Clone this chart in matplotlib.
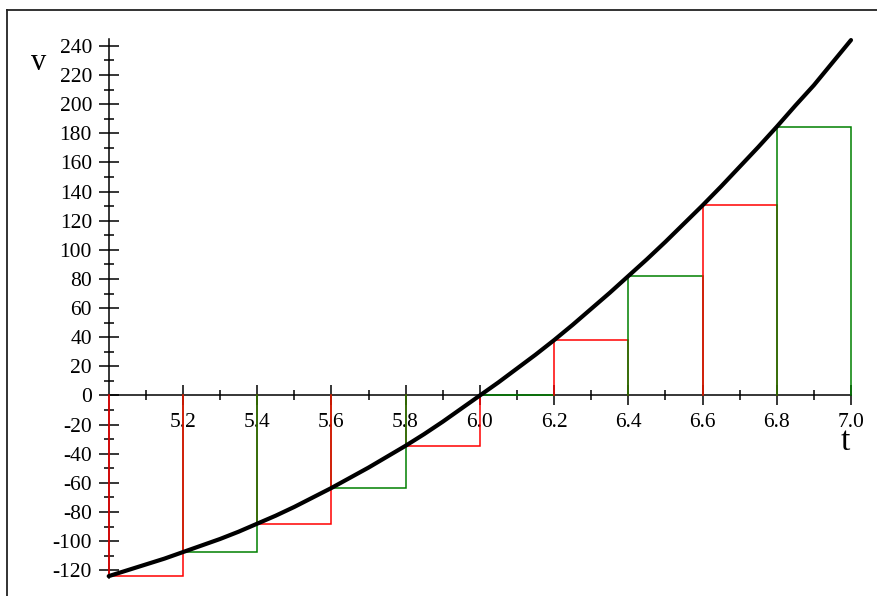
import matplotlib
matplotlib.use("Agg")
import matplotlib.pyplot as plt
from matplotlib.lines import Line2D

# ---- data ----
t_curve = [5.0, 5.05, 5.1, 5.15, 5.2, 5.25, 5.3, 5.35, 5.4, 5.45, 5.5, 5.55,
           5.6, 5.65, 5.7, 5.75, 5.8, 5.85, 5.9, 5.95, 6.0, 6.05, 6.1, 6.15,
           6.2, 6.25, 6.3, 6.35, 6.4, 6.45, 6.5, 6.55, 6.6, 6.65, 6.7, 6.75,
           6.8, 6.85, 6.9, 6.95, 7.0]
v_curve = [-124, -120, -116, -112, -107.5, -103, -98.5, -93.5, -88, -82.5, -76.5, -70,
           -63.5, -56.5, -49.5, -42, -34.5, -26.5, -18, -9, 0, 9, 18.5, 28,
           38, 48.5, 59.5, 70.5, 82, 93.5, 105.5, 118, 130.5, 143.5, 157, 170.5,
           184.5, 199, 213, 228.5, 244]

rect_left = [5.0, 5.2, 5.4, 5.6, 5.8, 6.0, 6.2, 6.4, 6.6, 6.8]
rect_height = [-124, -107.5, -88, -63.5, -34.5, 0, 38, 82, 130.5, 184.5]
rect_width = 0.2
rect_colors = ["#ff0000", "#008000"] * 5

x_major = [5.2, 5.4, 5.6, 5.8, 6.0, 6.2, 6.4, 6.6, 6.8, 7.0]
x_labels = ["5.2", "5.4", "5.6", "5.8", "6.0", "6.2", "6.4", "6.6", "6.8", "7.0"]
x_minor = [5.1, 5.3, 5.5, 5.7, 5.9, 6.1, 6.3, 6.5, 6.7, 6.9]
y_major = list(range(-120, 241, 20))
y_minor = list(range(-110, 231, 20))

serif = ["Liberation Serif", "DejaVu Serif"]

fig = plt.figure(figsize=(8.78, 5.96), dpi=100)
ax = fig.add_axes([0, 0, 1, 1])
ax.set_facecolor("white")

ax.set_xlim(4.70713, 7.07275)
ax.set_ylim(-137.64, 271.5)

for s in ["top", "right"]:
    ax.spines[s].set_visible(False)
ax.spines["left"].set_position(("data", 5.0))
ax.spines["bottom"].set_position(("data", 0))
ax.spines["left"].set_bounds(-125, 245)
ax.spines["bottom"].set_bounds(5.0, 7.0)
for s in ["left", "bottom"]:
    ax.spines[s].set_linewidth(1.1)
    ax.spines[s].set_color("black")

ax.set_xticks(x_major)
ax.set_xticklabels(x_labels)
ax.set_xticks(x_minor, minor=True)
ax.set_yticks(y_major)
ax.set_yticklabels([str(v) for v in y_major])
ax.set_yticks(y_minor, minor=True)
ax.tick_params(which="major", direction="inout", length=15, width=1.1, color="black",
               labelsize=15.5)
ax.tick_params(which="minor", direction="inout", length=7, width=1.1, color="black")
ax.tick_params(axis="x", which="major", pad=5)
ax.tick_params(axis="y", which="major", pad=4.5)
for lab in ax.get_xticklabels() + ax.get_yticklabels():
    lab.set_family(serif)

# left-endpoint rectangles (drawn as open polylines, larger |height| on top)
for left, h, c in zip(rect_left, rect_height, rect_colors):
    ax.plot([left, left, left + rect_width, left + rect_width], [0, h, h, 0],
            color=c, lw=1.1, zorder=3 + abs(h) / 1000.0, solid_joinstyle="miter")

# curve
ax.plot(t_curve, v_curve, color="black", lw=3.0, zorder=5,
        solid_capstyle="round", solid_joinstyle="round")

# axis labels
fig.text(38.5 / 878, 1 - 62 / 596, "v", family=serif, fontsize=22, ha="center", va="center")
fig.text(845 / 878, 1 - 442 / 596, "t", family=serif, fontsize=24, ha="center", va="center")

# frame
fig.add_artist(Line2D([7.3 / 878, 7.3 / 878], [0, 1 - 9.5 / 596], color="#222222", lw=1.3))
fig.add_artist(Line2D([7.3 / 878, 1], [1 - 9.5 / 596, 1 - 9.5 / 596], color="#222222", lw=1.3))

fig.savefig("out.png", dpi=100)
